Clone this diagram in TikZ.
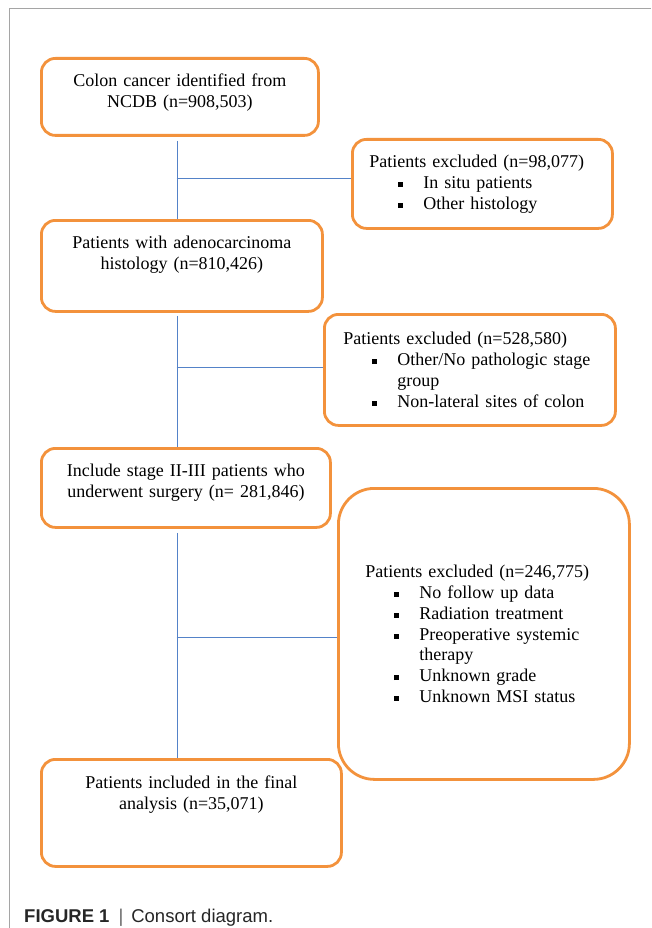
\documentclass[tikz,border=0pt]{standalone}
\usepackage{fontspec}
\setmainfont{Liberation Serif}
\newfontfamily\capfont{Liberation Sans}
\usepackage{xcolor}
\usetikzlibrary{positioning}

\definecolor{boxorange}{RGB}{243,146,60}
\definecolor{lineblue}{RGB}{84,130,200}
\definecolor{framegray}{RGB}{165,165,165}

% bullet line inside an exclusion box
\newcommand{\exitem}[1]{\hspace*{29pt}\makebox[25pt][l]{\rule[1.5pt]{5pt}{5pt}}#1}

\tikzset{
    stagebox/.style={rectangle, draw=boxorange, line width=2.8pt, rounded corners=14pt,
        fill=white, inner sep=0pt, align=center, anchor=north west, text height=28pt},
    exclbox/.style={rectangle, draw=boxorange, line width=2.8pt, rounded corners=14pt,
        fill=white, inner sep=0pt, align=left, anchor=north west},
    link/.style={draw=lineblue, line width=1pt},
    framerule/.style={draw=framegray, line width=1pt}
}

\begin{document}
\begin{tikzpicture}[x=1pt, y=-1pt, font=\fontsize{18}{20.8}\selectfont]
    \useasboundingbox (0,0) rectangle (651,928);

    % Figure frame
    \draw[framerule] (651,9) -- (9,9) -- (9,928);

    % Main flow boxes
    \node[stagebox, text width=277pt, minimum height=77pt, text depth=49pt]
        (colon) at (40,57) {Colon cancer identified from\\NCDB (n=908,503)};
    \node[stagebox, text width=281pt, minimum height=91pt, text depth=63pt]
        (adeno) at (40,219) {Patients with adenocarcinoma\\histology (n=810,426)};
    \node[stagebox, text width=289pt, minimum height=79pt, text depth=51pt]
        (stage) at (40,447) {Include stage II-III patients who\\underwent surgery (n= 281,846)};
    \node[stagebox, text width=300pt, minimum height=107pt, text depth=78pt, text height=29pt]
        (final) at (40,758) {Patients included in the final\\analysis (n=35,071)};

    % Exclusion boxes
    \node[exclbox, text width=226pt, minimum width=260pt, minimum height=89pt]
        (excl1) at (351,138) {Patients excluded (n=98,077)\\
        \exitem{In situ patients}\\
        \exitem{Other histology}};
    \node[exclbox, text width=253pt, minimum width=291pt, minimum height=111pt]
        (excl2) at (323,313) {Patients excluded (n=528,580)\\
        \exitem{Other/No pathologic stage}\\
        \hspace*{54pt}group\\
        \exitem{Non-lateral sites of colon}};
    \node[exclbox, text width=237pt, minimum width=291pt, minimum height=291pt,
        rounded corners=36pt] (excl3) at (337,487) {Patients excluded (n=246,775)\\
        \exitem{No follow up data}\\
        \exitem{Radiation treatment}\\
        \exitem{Preoperative systemic}\\
        \hspace*{54pt}therapy\\
        \exitem{Unknown grade}\\
        \exitem{Unknown MSI status}};

    % Spine of the flow
    \draw[link] ([xshift=-2pt,yshift=-4pt]colon.south) -- ([xshift=-4pt]adeno.north);
    \draw[link] ([xshift=-4pt,yshift=-3pt]adeno.south) -- ([xshift=-8pt]stage.north);
    \draw[link] ([xshift=-8pt,yshift=-4pt]stage.south) -- ([xshift=-13.5pt]final.north);

    % Branches to the exclusion boxes
    \coordinate (j1) at (176.5,179);
    \coordinate (j2) at (176.5,367);
    \coordinate (j3) at (176.5,637);
    \draw[link] (j1) -- (j1 -| excl1.west);
    \draw[link] (j2) -- (j2 -| excl2.west);
    \draw[link] (j3) -- (j3 -| excl3.west);

    % Caption
    \node[anchor=base west, inner sep=0pt, font=\capfont\fontsize{18.5}{22}\selectfont,
        text=black!85] (caption) at (24,922)
        {\textbf{FIGURE 1}\hspace{9pt}{\color{black!60}|}\hspace{8pt}Consort diagram.};
\end{tikzpicture}
\end{document}
